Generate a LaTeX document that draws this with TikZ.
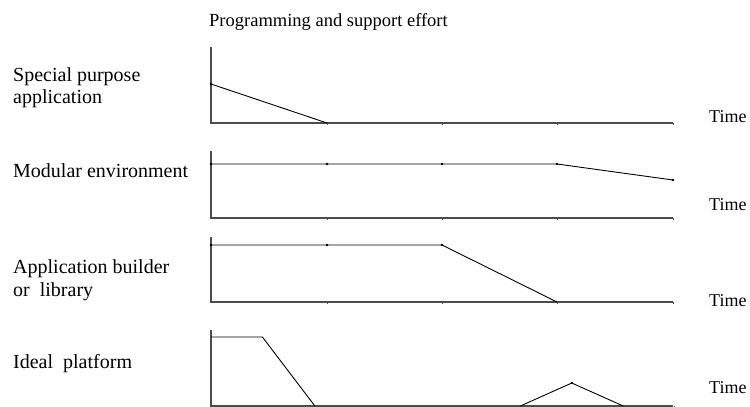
\documentclass[tikz,border=0pt]{standalone}
\usepackage{fontspec}
\setmainfont{Liberation Serif}
\begin{document}
\begin{tikzpicture}[x=1pt,y=-1pt,
  axis/.style={draw=black!70,line width=1.1pt},
  curve/.style={draw=black,line width=0.9pt,line join=round},
  tickmark/.style={draw=black!70,line width=0.8pt},
  lbl/.style={inner sep=0pt,anchor=base west,font=\fontsize{20}{22}\selectfont},
  timelbl/.style={inner sep=0pt,anchor=base west,font=\fontsize{18}{20}\selectfont},
  dot/.style={circle,fill=black,inner sep=0pt,minimum size=2.6pt}]
\useasboundingbox (0,0) rectangle (750,407);

% heading
\node[inner sep=0pt,anchor=base west,font=\fontsize{18.5}{20}\selectfont] (title) at (209,26) {Programming and support effort};

% row labels
\node[lbl] (spA) at (13,81) {Special purpose};
\node[lbl] (spB) at (13,103) {application};
\node[lbl] (mod) at (13,177) {Modular environment};
\node[lbl] (abA) at (13,273) {Application builder};
\node[lbl] (abB) at (13,296) {or\ \ library};
\node[lbl] (ide) at (13,368) {Ideal\ \ platform};

% time labels
\node[timelbl] (t1) at (709,122) {Time};
\node[timelbl] (t2) at (709,210) {Time};
\node[timelbl] (t3) at (709,306) {Time};
\node[timelbl] (t4) at (709,393) {Time};

% ---- row 1: special purpose application
\coordinate (o1) at (211,123);
\coordinate (y1) at (211,47);
\coordinate (e1) at (673,123);
\draw[axis] (y1) -- (o1) -- (e1);
\foreach \x in {327,442,557,673} \draw[tickmark] (\x,123) -- (\x,125);
\coordinate (a1) at (211,84);
\coordinate (b1) at (327,123);
\draw[curve] (a1) -- (b1);
\node[dot] at (a1) {};

% ---- row 2: modular environment
\coordinate (o2) at (211,218);
\coordinate (y2) at (211,151);
\coordinate (e2) at (673,218);
\draw[axis] (y2) -- (o2) -- (e2);
\foreach \x in {327,442,557,673} \draw[tickmark] (\x,218) -- (\x,220);
\coordinate (a2) at (211,164);
\coordinate (b2) at (327,164);
\coordinate (c2) at (442,164);
\coordinate (d2) at (557,164);
\coordinate (f2) at (673,180);
\draw[curve] (a2) -- (b2) -- (c2) -- (d2) -- (f2);
\foreach \p in {a2,b2,c2,d2,f2} \node[dot] at (\p) {};

% ---- row 3: application builder or library
\coordinate (o3) at (211,302);
\coordinate (y3) at (211,237);
\coordinate (e3) at (673,302);
\draw[axis] (y3) -- (o3) -- (e3);
\foreach \x in {327,442,557,673} \draw[tickmark] (\x,302) -- (\x,304);
\coordinate (a3) at (211,245);
\coordinate (b3) at (327,245);
\coordinate (c3) at (442,245);
\coordinate (d3) at (557,302);
\draw[curve] (a3) -- (b3) -- (c3) -- (d3);
\foreach \p in {a3,b3,c3} \node[dot] at (\p) {};

% ---- row 4: ideal platform
\coordinate (o4) at (211,406);
\coordinate (y4) at (211,330);
\coordinate (e4) at (673,406);
\draw[axis] (y4) -- (o4) -- (e4);
\foreach \i in {1,...,9} \draw[tickmark] ({211+\i*51.44},406) -- ({211+\i*51.44},408);
\coordinate (a4) at (211,337);
\coordinate (b4) at (262.4,337);
\coordinate (c4) at (314.9,406);
\coordinate (d4) at (520.3,406);
\coordinate (f4) at (571.8,383);
\coordinate (g4) at (623.2,406);
\draw[curve] (a4) -- (b4) -- (c4);
\draw[curve] (d4) -- (f4) -- (g4);
\node[dot] at (f4) {};
\end{tikzpicture}
\end{document}
